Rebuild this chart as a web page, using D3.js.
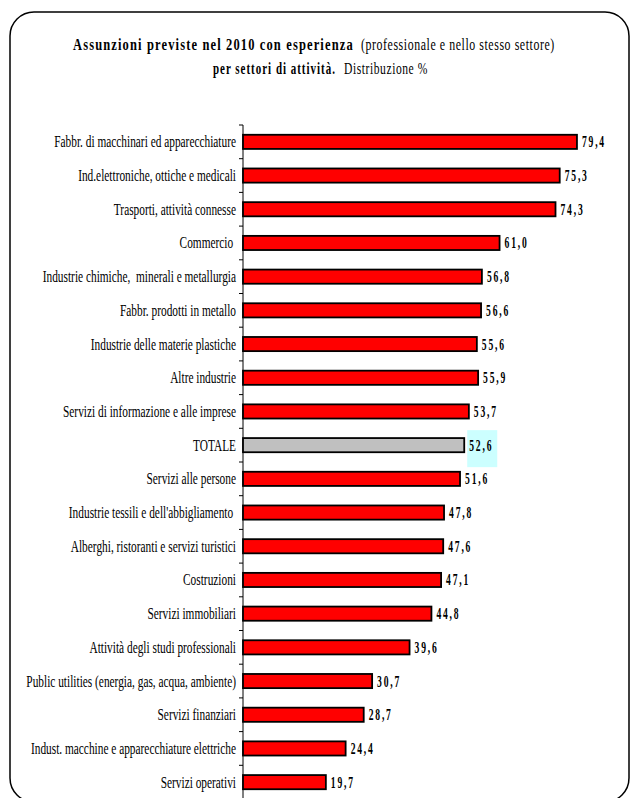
<!DOCTYPE html>
<html>
<head>
<meta charset="utf-8">
<script src="https://cdn.jsdelivr.net/npm/d3@7"></script>
<style>
  html, body { margin: 0; padding: 0; background: #fff; }
  svg { display: block; }
  text { font-family: "Liberation Serif", "Times New Roman", serif; }
</style>
</head>
<body>
<svg id="chart" width="631" height="798"></svg>
<script>
const categories = [
  "Fabbr. di macchinari ed apparecchiature",
  "Ind.elettroniche, ottiche e medicali",
  "Trasporti, attività connesse",
  "Commercio ",
  "Industrie chimiche,  minerali e metallurgia",
  "Fabbr. prodotti in metallo",
  "Industrie delle materie plastiche",
  "Altre industrie",
  "Servizi di informazione e alle imprese",
  "TOTALE",
  "Servizi alle persone",
  "Industrie tessili e dell'abbigliamento ",
  "Alberghi, ristoranti e servizi turistici",
  "Costruzioni",
  "Servizi immobiliari",
  "Attività degli studi professionali",
  "Public utilities (energia, gas, acqua, ambiente)",
  "Servizi finanziari",
  "Indust. macchine e apparecchiature elettriche",
  "Servizi operativi"
];
const values = [79.4, 75.3, 74.3, 61.0, 56.8, 56.6, 55.6, 55.9, 53.7, 52.6,
                51.6, 47.8, 47.6, 47.1, 44.8, 39.6, 30.7, 28.7, 24.4, 19.7];
const highlight = "TOTALE";
const titleLine1Bold = "Assunzioni previste nel 2010 con esperienza";
const titleLine1Normal = "(professionale e nello stesso settore)";
const titleLine2Bold = "per settori di attività.";
const titleLine2Normal = "Distribuzione %";

const data = categories.map((c, i) => ({ cat: c, val: values[i] }));

const svg = d3.select("#chart");

// frame
svg.append("rect")
  .attr("x", 10).attr("y", 12)
  .attr("width", 619).attr("height", 790)
  .attr("rx", 24).attr("ry", 24)
  .attr("fill", "none").attr("stroke", "#000").attr("stroke-width", 1.5);

// title: condensed via horizontal scale so the text fits its width
function titlePart(txt, x, y, w, bold) {
  const t = svg.append("text")
    .attr("font-size", 16.5)
    .attr("font-weight", bold ? "bold" : "normal")
    .attr("letter-spacing", bold ? 1.5 : 0.8)
    .attr("fill", "#000")
    .text(txt);
  const nat = t.node().getComputedTextLength();
  t.attr("transform", `translate(${x},${y}) scale(${w / nat},1)`);
}
titlePart(titleLine1Bold, 73, 50, 281, true);
titlePart(titleLine1Normal, 361, 50, 194, false);
titlePart(titleLine2Bold, 213, 74, 123, true);
titlePart(titleLine2Normal, 344, 74, 84, false);

// scales
const x = d3.scaleLinear().domain([0, 100]).range([243, 663.6]);
const y = d3.scaleBand().domain(categories).range([125, 799]).padding(0);
const barH = y.bandwidth() * 0.42;

// axis line
svg.append("line")
  .attr("x1", x(0)).attr("x2", x(0))
  .attr("y1", y.range()[0]).attr("y2", y.range()[1])
  .attr("stroke", "#000").attr("stroke-width", 1);

// ticks at category boundaries
const tickYs = categories.map(c => y(c)).concat([y.range()[1]]);
svg.append("g").selectAll("line").data(tickYs).join("line")
  .attr("x1", x(0) - 4).attr("x2", x(0))
  .attr("y1", d => d).attr("y2", d => d)
  .attr("stroke", "#000").attr("stroke-width", 1);

// bars
svg.append("g").selectAll("rect").data(data).join("rect")
  .attr("x", x(0))
  .attr("y", d => y(d.cat) + y.bandwidth() / 2 - barH / 2)
  .attr("width", d => x(d.val) - x(0))
  .attr("height", barH)
  .attr("fill", d => d.cat === highlight ? "#c0c0c0" : "#ff0000")
  .attr("stroke", "#000").attr("stroke-width", 1.8);

// highlight box behind total label
data.filter(d => d.cat === highlight).forEach(d => {
  const cy = y(d.cat) + y.bandwidth() / 2;
  svg.append("rect")
    .attr("x", x(d.val) + 3).attr("y", cy - 15)
    .attr("width", 30).attr("height", 37)
    .attr("fill", "#ccffff");
});

// category labels (condensed)
const sxLab = 0.71;
svg.append("g").selectAll("text").data(data).join("text")
  .attr("transform", d => `translate(236,${y(d.cat) + y.bandwidth() / 2 + 5.5}) scale(${sxLab},1)`)
  .attr("text-anchor", "end")
  .attr("font-size", 16)
  .style("white-space", "pre")
  .attr("fill", "#000")
  .text(d => d.cat);

// value labels
const fmt = v => d3.format(".1f")(v).replace(".", ",");
const sxVal = 0.6;
svg.append("g").selectAll("text").data(data).join("text")
  .attr("transform", d => `translate(${x(d.val) + 5},${y(d.cat) + y.bandwidth() / 2 + 5.5}) scale(${sxVal},1)`)
  .attr("font-size", 16)
  .attr("font-weight", "bold")
  .attr("letter-spacing", 3)
  .attr("fill", "#000")
  .text(d => fmt(d.val));
</script>
</body>
</html>
